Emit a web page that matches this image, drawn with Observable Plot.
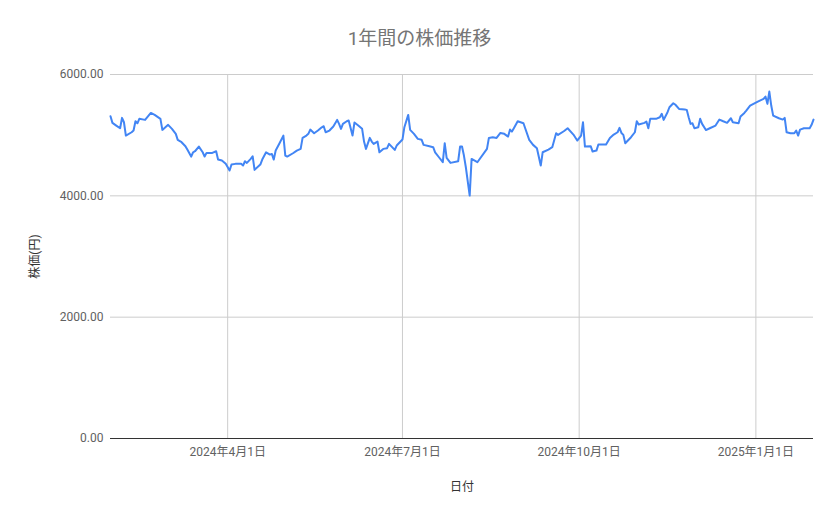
<!DOCTYPE html>
<html>
<head>
<meta charset="utf-8">
<script src="https://cdn.jsdelivr.net/npm/d3@7"></script>
<script src="https://cdn.jsdelivr.net/npm/@observablehq/plot@0.6"></script>
<style>
  html, body { margin: 0; padding: 0; background: #fff; }
  body { width: 839px; font-family: Roboto, "Noto Sans CJK JP", sans-serif; }
  #title { height: 60px; box-sizing: border-box; padding-top: 29px; line-height: 20px; text-align: center; font-size: 19px; color: #757575; }
</style>
</head>
<body>
<div id="title">1年間の株価推移</div>
<div id="chart"></div>
<script>
// Dates (YYYY-MM-DD) and closing prices, grouped by month
const dates = [
  "2024-01-31",
  "2024-02-01","2024-02-03","2024-02-05","2024-02-06","2024-02-07","2024-02-08","2024-02-11","2024-02-12","2024-02-13","2024-02-14","2024-02-15","2024-02-18","2024-02-21","2024-02-23","2024-02-26","2024-02-27",
  "2024-03-01","2024-03-03","2024-03-05","2024-03-06","2024-03-08","2024-03-10","2024-03-11","2024-03-13","2024-03-14","2024-03-15","2024-03-17","2024-03-19","2024-03-20","2024-03-21","2024-03-24","2024-03-26","2024-03-27","2024-03-29","2024-03-31",
  "2024-04-02","2024-04-03","2024-04-05","2024-04-08","2024-04-09","2024-04-10","2024-04-11","2024-04-13","2024-04-14","2024-04-15","2024-04-18","2024-04-19","2024-04-21","2024-04-23","2024-04-24","2024-04-25","2024-04-26","2024-04-28","2024-04-30",
  "2024-05-01","2024-05-02","2024-05-05","2024-05-07","2024-05-09","2024-05-10","2024-05-12","2024-05-13","2024-05-14","2024-05-16","2024-05-18","2024-05-20","2024-05-21","2024-05-22","2024-05-24","2024-05-26","2024-05-28","2024-05-29","2024-05-30","2024-05-31",
  "2024-06-02","2024-06-03","2024-06-05","2024-06-06","2024-06-08","2024-06-10","2024-06-11","2024-06-12","2024-06-14","2024-06-15","2024-06-16","2024-06-18","2024-06-19","2024-06-21","2024-06-23","2024-06-24","2024-06-27","2024-06-28",
  "2024-07-01","2024-07-02","2024-07-04","2024-07-05","2024-07-07","2024-07-09","2024-07-11","2024-07-12","2024-07-15","2024-07-17","2024-07-18","2024-07-20","2024-07-22","2024-07-23","2024-07-24","2024-07-26","2024-07-30","2024-07-31",
  "2024-08-01","2024-08-02","2024-08-03","2024-08-05","2024-08-06","2024-08-09","2024-08-14","2024-08-15","2024-08-17","2024-08-19","2024-08-21","2024-08-23","2024-08-25","2024-08-26","2024-08-27","2024-08-28","2024-08-30",
  "2024-09-02","2024-09-05","2024-09-07","2024-09-09","2024-09-11","2024-09-12","2024-09-15","2024-09-17","2024-09-19","2024-09-20","2024-09-23","2024-09-25","2024-09-28","2024-09-30",
  "2024-10-02","2024-10-03","2024-10-04","2024-10-07","2024-10-08","2024-10-10","2024-10-11","2024-10-15","2024-10-17","2024-10-19","2024-10-21","2024-10-22","2024-10-23","2024-10-24","2024-10-25","2024-10-28","2024-10-30","2024-10-31",
  "2024-11-01","2024-11-04","2024-11-05","2024-11-06","2024-11-07","2024-11-10","2024-11-12","2024-11-13","2024-11-14","2024-11-16","2024-11-17","2024-11-19","2024-11-20","2024-11-22","2024-11-25","2024-11-26","2024-11-27","2024-11-28","2024-11-29","2024-11-30",
  "2024-12-02","2024-12-03","2024-12-04","2024-12-06","2024-12-08","2024-12-11","2024-12-13","2024-12-15","2024-12-17","2024-12-19","2024-12-20","2024-12-23","2024-12-24","2024-12-26","2024-12-27","2024-12-29",
  "2025-01-02","2025-01-05","2025-01-06","2025-01-07","2025-01-08","2025-01-09","2025-01-10","2025-01-13","2025-01-15","2025-01-16","2025-01-17","2025-01-19","2025-01-21","2025-01-22","2025-01-23","2025-01-24","2025-01-26","2025-01-29","2025-01-30","2025-01-31"
];
const prices = [
  5311,
  5203,5158,5114,5285,5213,4993,5048,5076,5229,5196,5269,5252,5367,5334,5269,5087,
  5170,5104,5022,4923,4884,4818,4763,4647,4718,4735,4812,4718,4647,4708,4708,4735,4598,4581,4527,
  4417,4516,4527,4527,4499,4570,4543,4609,4653,4428,4516,4598,4718,4680,4691,4598,4746,4867,4993,
  4664,4647,4702,4746,4774,4955,4993,5022,5092,5031,5076,5130,5147,5048,5076,5142,5252,5186,5104,5186,
  5229,5241,4993,5208,5158,5104,4895,4774,4955,4895,4856,4895,4718,4774,4785,4856,4757,4829,
  4928,5131,5334,5087,5022,4939,4923,4840,4818,4802,4718,4636,4554,4867,4625,4543,4570,4812,
  4812,4664,4471,4004,4609,4554,4774,4955,4966,4955,5037,5022,4977,5092,5059,5114,5229,
  5197,4923,4840,4785,4499,4718,4763,4802,5031,5005,5065,5114,5010,4911,
  4993,5213,4812,4818,4730,4746,4845,4845,4955,5010,5048,5120,5037,5005,4867,4966,5048,5229,
  5175,5203,5224,5114,5269,5269,5296,5351,5252,5378,5460,5526,5505,5433,5422,5417,5296,5186,5196,5114,
  5131,5269,5186,5084,5114,5158,5257,5229,5203,5279,5213,5197,5307,5367,5405,5488,
  5554,5598,5636,5516,5718,5488,5323,5279,5257,5285,5048,5031,5031,5076,4993,5092,5114,5114,5170,5257
];
const xTickDates = ["2024-04-01", "2024-07-01", "2024-10-01", "2025-01-01"];
const yTicks = [0, 2000, 4000, 6000];
const xDomain = ["2024-01-31", "2025-01-31"];

const data = dates.map((d, i) => ({date: new Date(d), price: prices[i]}));
const xTicks = xTickDates.map(d => new Date(d));
const fmtDate = d => `${d.getUTCFullYear()}年${d.getUTCMonth() + 1}月${d.getUTCDate()}日`;

const chart = Plot.plot({
  width: 839,
  height: 459,
  marginLeft: 110,
  marginRight: 26,
  marginTop: 14,
  marginBottom: 81,
  style: {fontFamily: 'Roboto, "Noto Sans CJK JP", sans-serif', fontSize: "12px", color: "#616161", background: "#fff", overflow: "visible"},
  x: {type: "utc", domain: xDomain.map(d => new Date(d)), ticks: xTicks, tickFormat: fmtDate, tickSize: 0, tickPadding: 9,
      label: "日付", labelAnchor: "center", labelArrow: "none", labelOffset: 52},
  y: {domain: [0, 6000], ticks: yTicks, tickFormat: d => d.toFixed(2), tickSize: 0, tickPadding: 7,
      label: "株価(円)", labelAnchor: "center", labelArrow: "none", labelOffset: 80},
  marks: [
    Plot.gridY(yTicks, {stroke: "#cccccc", strokeOpacity: 1}),
    Plot.gridX(xTicks, {stroke: "#cccccc", strokeOpacity: 1}),
    Plot.ruleY([0], {stroke: "#333333", strokeWidth: 1}),
    Plot.lineY(data, {x: "date", y: "price", stroke: "#4285f4", strokeWidth: 2, strokeLinejoin: "round"})
  ]
});
document.getElementById("chart").appendChild(chart);
chart.querySelectorAll('[aria-label="x-axis label"], [aria-label="y-axis label"]').forEach(g => {
  g.setAttribute("fill", "#333333");
  g.querySelectorAll("text").forEach(t => t.setAttribute("fill", "#333333"));
});
</script>
</body>
</html>
